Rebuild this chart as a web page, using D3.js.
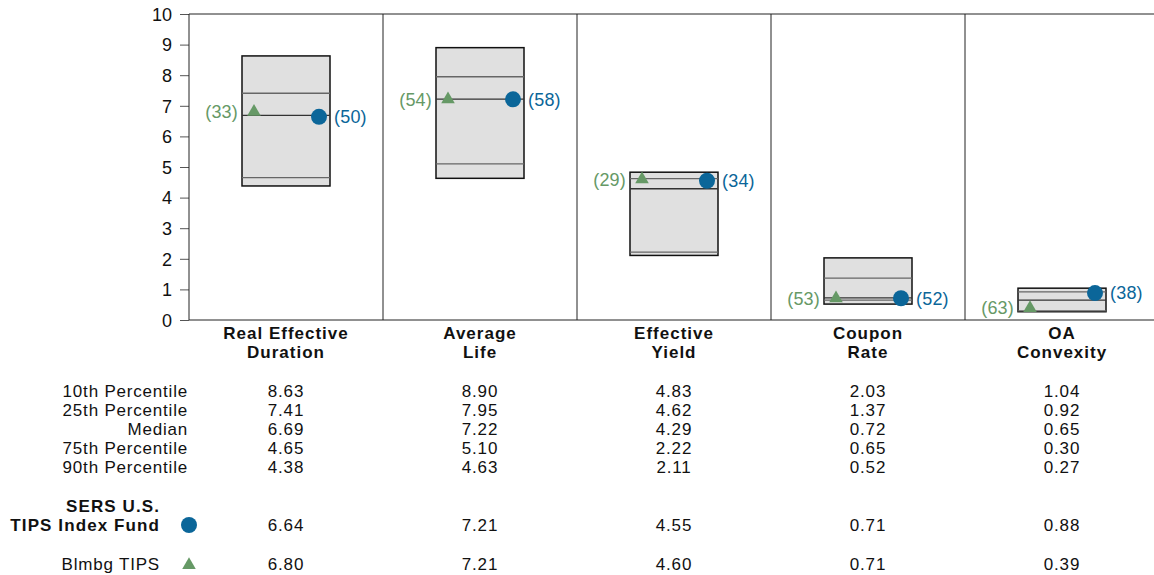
<!DOCTYPE html>
<html>
<head>
<meta charset="utf-8">
<script src="https://cdn.jsdelivr.net/npm/d3@7"></script>
<style>
  body { margin: 0; background: #fff; }
  svg text { font-family: "Liberation Sans", Arial, sans-serif; }
</style>
</head>
<body>
<div id="chart"></div>
<script>
(function() {

    const categories = ["Real Effective|Duration", "Average|Life", "Effective|Yield", "Coupon|Rate", "OA|Convexity"];
    const p10 = [8.63, 8.90, 4.83, 2.03, 1.04];
    const p25 = [7.41, 7.95, 4.62, 1.37, 0.92];
    const median = [6.69, 7.22, 4.29, 0.72, 0.65];
    const p75 = [4.65, 5.10, 2.22, 0.65, 0.30];
    const p90 = [4.38, 4.63, 2.11, 0.52, 0.27];
    const fund = [6.64, 7.21, 4.55, 0.71, 0.88];
    const fundRank = [50, 58, 34, 52, 38];
    const bench = [6.80, 7.21, 4.60, 0.71, 0.39];
    const benchRank = [33, 54, 29, 53, 63];
    const yTicks = [0, 1, 2, 3, 4, 5, 6, 7, 8, 9, 10];
    const rowLabels = ["10th Percentile", "25th Percentile", "Median", "75th Percentile", "90th Percentile"];

    const width = 1154;
    const height = 575;
    const margin = {top: 14, left: 189, bottom: 320};
    const blue = "#0b6699";
    const green = "#669966";

    const svg = d3.select("#chart").append("svg")
        .attr("width", width)
        .attr("height", height);

    const x = d3.scaleBand()
        .domain(d3.range(categories.length))
        .range([margin.left, margin.left + 194 * categories.length]);

    const y = d3.scaleLinear()
        .domain([0, 10])
        .range([margin.bottom, margin.top]);

    const cx = i => x(i) + x.bandwidth() / 2;
    const boxW = 88;

    // y axis
    const yAxis = svg.append("g")
        .attr("transform", `translate(${margin.left},0)`)
        .call(d3.axisLeft(y).tickValues(yTicks).tickSize(9).tickPadding(8).tickSizeOuter(0))
        .attr("font-size", "18px");
    yAxis.select(".domain").remove();
    yAxis.selectAll(".tick line").attr("stroke", "#555");
    yAxis.selectAll(".tick text").attr("fill", "#111").attr("dy", "0.35em");

    // frame
    svg.append("line").attr("x1", margin.left).attr("x2", width).attr("y1", y(10)).attr("y2", y(10)).attr("stroke", "#222");
    svg.append("line").attr("x1", margin.left).attr("x2", width).attr("y1", y(0)).attr("y2", y(0)).attr("stroke", "#222");
    svg.append("g").selectAll("line")
        .data(d3.range(categories.length))
        .join("line")
        .attr("x1", i => x(i)).attr("x2", i => x(i))
        .attr("y1", y(10)).attr("y2", y(0))
        .attr("stroke", "#222");

    // boxes
    const boxes = svg.append("g").selectAll("g")
        .data(d3.range(categories.length))
        .join("g");

    boxes.append("rect")
        .attr("x", i => cx(i) - boxW / 2)
        .attr("y", i => y(p10[i]))
        .attr("width", boxW)
        .attr("height", i => y(p90[i]) - y(p10[i]))
        .attr("fill", "#e0e0e0")
        .attr("stroke", "#111")
        .attr("stroke-width", 1.5);

    [p25, median, p75].forEach((arr, k) => {
        boxes.append("line")
            .attr("x1", i => cx(i) - boxW / 2)
            .attr("x2", i => cx(i) + boxW / 2)
            .attr("y1", i => y(arr[i]))
            .attr("y2", i => y(arr[i]))
            .attr("stroke", k === 1 ? "#333" : "#666")
            .attr("stroke-width", 1.3);
    });

    // benchmark triangles
    const tri = d3.symbol().type(d3.symbolTriangle).size(80);
    boxes.append("path")
        .attr("d", tri)
        .attr("transform", i => `translate(${cx(i) - 32},${y(bench[i])})`)
        .attr("fill", green);
    boxes.append("text")
        .attr("x", i => cx(i) - 48)
        .attr("y", i => y(bench[i]))
        .attr("dy", "0.35em")
        .attr("text-anchor", "end")
        .attr("font-size", "18px")
        .attr("letter-spacing", "0.2px")
        .attr("fill", green)
        .text(i => `(${benchRank[i]})`);

    // fund circles
    boxes.append("circle")
        .attr("cx", i => cx(i) + 33)
        .attr("cy", i => y(fund[i]))
        .attr("r", 8)
        .attr("fill", blue);
    boxes.append("text")
        .attr("x", i => cx(i) + 48)
        .attr("y", i => y(fund[i]))
        .attr("dy", "0.35em")
        .attr("font-size", "18px")
        .attr("letter-spacing", "0.2px")
        .attr("fill", blue)
        .text(i => `(${fundRank[i]})`);

    // category labels
    const catLabels = svg.append("g").selectAll("text")
        .data(categories)
        .join("text")
        .attr("x", (d, i) => cx(i))
        .attr("y", 339)
        .attr("text-anchor", "middle")
        .attr("font-size", "17px")
        .attr("letter-spacing", "1px")
        .attr("font-weight", "bold")
        .attr("fill", "#111");
    catLabels.selectAll("tspan")
        .data(d => d.split("|"))
        .join("tspan")
        .attr("x", function() { return this.parentNode.getAttribute("x"); })
        .attr("dy", (d, j) => j === 0 ? 0 : 19)
        .text(d => d);

    // table
    const rowY = [397, 416, 435, 454, 473];
    const rows = [p10, p25, median, p75, p90];
    const table = svg.append("g")
        .attr("font-size", "17px")
        .attr("letter-spacing", "0.8px")
        .attr("fill", "#111");
    table.selectAll("text.lbl")
        .data(rowLabels)
        .join("text")
        .attr("class", "lbl")
        .attr("x", 188)
        .attr("y", (d, r) => rowY[r])
        .attr("text-anchor", "end")
        .text(d => d);
    rows.forEach((arr, r) => {
        table.append("g").selectAll("text")
            .data(arr)
            .join("text")
            .attr("x", (d, i) => cx(i))
            .attr("y", rowY[r])
            .attr("text-anchor", "middle")
            .text(d => d.toFixed(2));
    });

    // fund row
    table.append("text").attr("x", 160).attr("y", 512).attr("text-anchor", "end")
        .attr("font-weight", "bold").attr("letter-spacing", "1.1px").text("SERS U.S.");
    table.append("text").attr("x", 160).attr("y", 531).attr("text-anchor", "end")
        .attr("font-weight", "bold").attr("letter-spacing", "1.1px").text("TIPS Index Fund");
    svg.append("circle").attr("cx", 189).attr("cy", 525).attr("r", 8).attr("fill", blue);
    table.append("g").selectAll("text")
        .data(fund)
        .join("text")
        .attr("x", (d, i) => cx(i))
        .attr("y", 531)
        .attr("text-anchor", "middle")
        .text(d => d.toFixed(2));

    // benchmark row
    table.append("text").attr("x", 160).attr("y", 570).attr("text-anchor", "end").text("Blmbg TIPS");
    svg.append("path").attr("d", tri).attr("transform", "translate(189,565)").attr("fill", green);
    table.append("g").selectAll("text")
        .data(bench)
        .join("text")
        .attr("x", (d, i) => cx(i))
        .attr("y", 570)
        .attr("text-anchor", "middle")
        .text(d => d.toFixed(2));

})();
</script>
</body>
</html>
